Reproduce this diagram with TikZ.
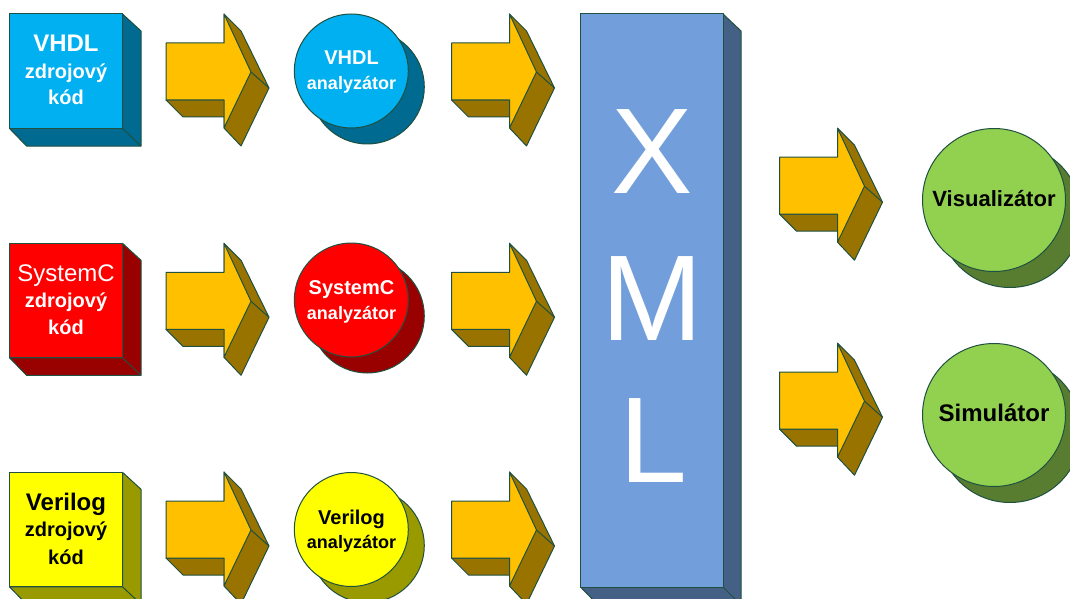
\documentclass[tikz,border=0pt]{standalone}
\usepackage{fontspec}
\setmainfont{Liberation Sans}
\definecolor{edgec}{HTML}{1F5040}
\definecolor{ampf}{HTML}{FFC000}
\definecolor{ampd}{HTML}{997300}
\definecolor{cyf}{HTML}{00B0F0}
\definecolor{cyd}{HTML}{006A90}
\definecolor{rdf}{HTML}{FF0000}
\definecolor{rdd}{HTML}{990000}
\definecolor{yef}{HTML}{FFFF00}
\definecolor{yed}{HTML}{999900}
\definecolor{blf}{HTML}{729FDB}
\definecolor{bld}{HTML}{446085}
\definecolor{grf}{HTML}{92D050}
\definecolor{grd}{HTML}{587D31}
\tikzset{
  solid3d/.style={draw=edgec,line width=1pt,line join=round},
  lbl/.style={anchor=base,inner sep=0pt,outer sep=0pt,font=\fontsize{#1}{#1}\selectfont\bfseries},
  lblthin/.style={anchor=base,inner sep=0pt,outer sep=0pt,font=\fontsize{#1}{#1}\selectfont},
  xmlchar/.style={anchor=base,inner sep=0pt,outer sep=0pt,text=white,font=\fontsize{122}{122}\selectfont}
}
% block arrow: #1,#2 = offset of the whole shape
\newcommand{\blockarrow}[2]{%
  \begin{scope}[shift={(#1,#2)}]
    \filldraw[solid3d,fill=ampd] (224,14) -- (241,31) -- (269,88) -- (241,146) -- (224,128) -- (224,117) -- (183,117) -- (166,100) -- (224,100) -- cycle;
    \draw[solid3d] (251,72) -- (269,88);
    \filldraw[solid3d,fill=ampf] (166,43) -- (224,43) -- (224,14) -- (251,72) -- (224,128) -- (224,100) -- (166,100) -- cycle;
  \end{scope}}
% cube: #1 top y, #2 front colour, #3 side colour
\newcommand{\sourcebox}[3]{%
  \begin{scope}[shift={(0,#1)}]
    \filldraw[solid3d,fill=#3] (122.5,0) -- (141,17) -- (141,132) -- (26.5,132) -- (9.5,114.5) -- (122.5,114.5) -- cycle;
    \draw[solid3d] (122.5,114.5) -- (141,132);
    \filldraw[solid3d,fill=#2] (9.5,0) rectangle (122.5,114.5);
  \end{scope}}
% cylinder seen as two circles: #1,#2 centre, #3 radius, #4 front, #5 back
\newcommand{\discshape}[5]{%
  \filldraw[solid3d,fill=#5] (#1+16,#2+16) circle[radius=#3];
  \filldraw[solid3d,fill=#4] (#1,#2) circle[radius=#3];}
\begin{document}
\begin{tikzpicture}[x=1pt,y=-1pt]
\useasboundingbox (0,0) rectangle (1070,599);
\clip (0,0) rectangle (1070,599);
% source boxes
\sourcebox{14}{cyf}{cyd}
\sourcebox{243.3}{rdf}{rdd}
\sourcebox{472.3}{yef}{yed}
% arrows
\blockarrow{0}{0}
\blockarrow{0}{229.3}
\blockarrow{0}{458}
\blockarrow{285.5}{0}
\blockarrow{285.5}{229.3}
\blockarrow{285.5}{458}
\blockarrow{613.5}{114.2}
\blockarrow{613.5}{329.2}
% analyzers
\discshape{351.3}{71}{57}{cyf}{cyd}
\discshape{351.3}{300}{57}{rdf}{rdd}
\discshape{351.3}{529.5}{57}{yef}{yed}
% XML block
\filldraw[solid3d,fill=bld] (723,14) -- (741,31) -- (741,605) -- (598,605) -- (580.5,587) -- (723,587) -- cycle;
\draw[solid3d] (723,587) -- (741,605);
\filldraw[solid3d,fill=blf] (580.5,14) rectangle (723,587);
% output discs
\discshape{994}{200}{71.5}{grf}{grd}
\discshape{994}{415}{71.5}{grf}{grd}
% texts: source boxes
\node[lbl=24,text=white] (t1a) at (66,51.7) {VHDL};
\node[lbl=20,text=white] (t1b) at (66,78.3) {zdrojový};
\node[lbl=20,text=white] (t1c) at (66,105) {kód};
\node[lblthin=24,text=white] (t2a) at (66,281) {SystemC};
\node[lbl=20,text=white] (t2b) at (66,307.3) {zdrojový};
\node[lbl=20,text=white] (t2c) at (66,334.5) {kód};
\node[lbl=24,text=black] (t3a) at (66,510) {Verilog};
\node[lbl=20,text=black] (t3b) at (66,536.7) {zdrojový};
\node[lbl=20,text=black] (t3c) at (66,564) {kód};
% texts: analyzers
\node[lbl=20,text=white] (a1a) at (351.5,65) {VHDL};
\node[lbl=18,text=white] (a1b) at (351.5,90) {analyzátor};
\node[lbl=20,text=white] (a2a) at (351.5,294.3) {SystemC};
\node[lbl=18,text=white] (a2b) at (351.5,319.3) {analyzátor};
\node[lbl=20,text=black] (a3a) at (351.5,524.3) {Verilog};
\node[lbl=18,text=black] (a3b) at (351.5,548.3) {analyzátor};
% texts: outputs
\node[lbl=22,text=black] (v1) at (994,206.7) {Visualizátor};
\node[lbl=24,text=black] (v2) at (994,421.7) {Simulátor};
% XML letters
\node[xmlchar] (x1) at (652,193) {X};
\node[xmlchar] (x2) at (652,340) {M};
\node[xmlchar] (x3) at (653,482) {L};
\end{tikzpicture}
\end{document}
